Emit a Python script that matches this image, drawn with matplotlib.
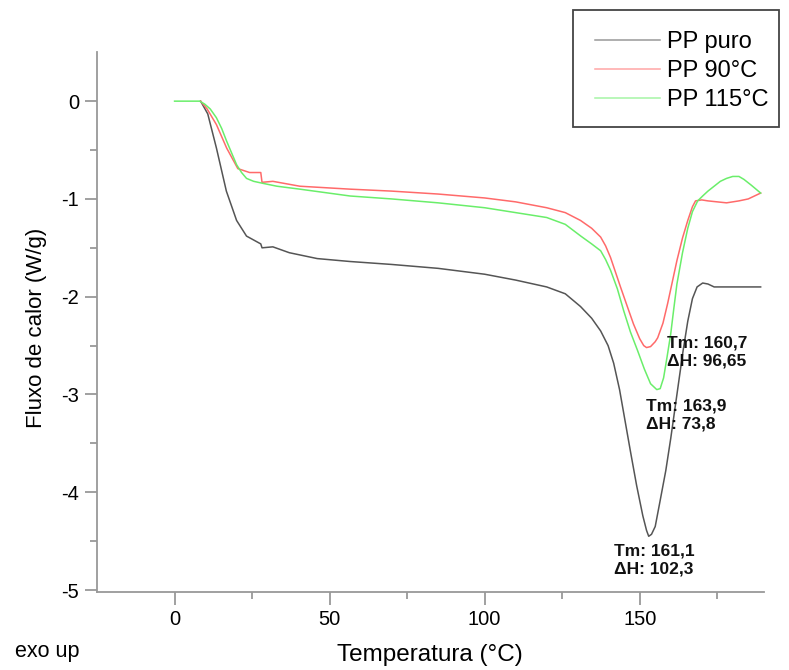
import matplotlib.pyplot as plt
from matplotlib.patches import Rectangle

# PP puro (black)
puro_x = [8.4, 10.7, 13.5, 16.7, 20.0, 23.2, 27.8, 28.2, 31.7, 37.0, 46.0, 56.6, 70.0, 85.0,
          100.0, 110.0, 120.0, 126.0, 130.9, 134.5, 137.4, 139.8, 141.6, 143.5, 145.0, 147.0,
          149.0, 151.0, 152.2, 152.9, 153.8, 155.0, 156.5, 158.4, 160.0, 162.0, 164.0, 165.5,
          167.0, 168.5, 170.3, 172.0, 174.0, 180.0, 189.0]
puro_y = [0.0, -0.13, -0.48, -0.92, -1.22, -1.38, -1.46, -1.50, -1.49, -1.55, -1.61, -1.64, -1.67, -1.71,
          -1.77, -1.83, -1.90, -1.97, -2.10, -2.22, -2.35, -2.50, -2.68, -2.95, -3.22, -3.58,
          -3.93, -4.24, -4.39, -4.45, -4.43, -4.35, -4.10, -3.78, -3.45, -3.00, -2.55, -2.25,
          -2.02, -1.90, -1.86, -1.87, -1.90, -1.90, -1.90]

# PP 90°C (red)
p90_x = [8.4, 10.5, 13.5, 16.8, 20.4, 24.2, 27.8, 28.2, 31.7, 40.4, 56.6, 70.0, 85.0, 100.0,
         110.0, 120.0, 126.0, 130.9, 134.5, 137.4, 139.0, 140.6, 142.2, 143.8, 146.0, 148.0, 150.0,
         151.3, 152.2, 153.5, 155.0, 155.8, 157.5, 159.0, 160.5, 162.0, 163.8, 165.5, 167.0,
         168.0, 170.0, 172.0, 175.0, 178.0, 182.0, 185.0, 189.0]
p90_y = [0.0, -0.08, -0.24, -0.48, -0.69, -0.73, -0.73, -0.83, -0.82, -0.87, -0.90, -0.92, -0.95, -0.99,
         -1.03, -1.09, -1.14, -1.22, -1.30, -1.39, -1.48, -1.60, -1.75, -1.90, -2.10, -2.28, -2.43,
         -2.50, -2.52, -2.51, -2.46, -2.42, -2.27, -2.07, -1.85, -1.63, -1.40, -1.22, -1.08,
         -1.02, -1.01, -1.02, -1.03, -1.04, -1.02, -1.00, -0.94]

# PP 115°C (green)
p115_x = [0.0, 8.1, 9.7, 11.5, 13.5, 15.2, 16.8, 18.4, 20.0, 21.6, 23.2, 25.5, 28.4, 33.0, 40.4,
          56.6, 70.0, 85.0, 100.0, 110.0, 120.0, 126.0, 131.0, 134.5, 137.4, 139.0, 140.6, 142.8,
          144.8, 147.0, 149.3, 151.5, 153.5, 155.5, 156.6, 157.7, 158.8, 160.0, 161.0, 162.0,
          163.8, 165.5, 167.0, 168.7, 170.3, 172.0, 174.0, 176.0, 178.0, 180.0, 182.0, 183.6, 186.0, 189.0]
p115_y = [0.0, 0.0, -0.03, -0.08, -0.17, -0.28, -0.41, -0.53, -0.65, -0.73, -0.79, -0.82, -0.84, -0.87, -0.90,
          -0.97, -1.00, -1.04, -1.09, -1.14, -1.19, -1.26, -1.38, -1.46, -1.53, -1.62, -1.73, -1.92,
          -2.14, -2.36, -2.55, -2.74, -2.89, -2.95, -2.94, -2.83, -2.62, -2.38, -2.12, -1.87,
          -1.55, -1.30, -1.13, -1.02, -0.97, -0.92, -0.87, -0.82, -0.79, -0.77, -0.77, -0.80, -0.86, -0.94]

labels = ['PP puro', 'PP 90°C', 'PP 115°C']
colors = ['#555555', '#ff6a6a', '#6aee6a']

ann_x = [158.7, 151.9, 141.6]
ann_y = [-2.40, -3.04, -4.52]
ann_text = ['Tm: 160,7\n\u0394H: 96,65', 'Tm: 163,9\n\u0394H: 73,8', 'Tm: 161,1\n\u0394H: 102,3']

plt.rcParams['font.family'] = ['Liberation Sans', 'DejaVu Sans']
plt.rcParams['axes.unicode_minus'] = False

fig = plt.figure(figsize=(7.89, 6.70), dpi=100)
ax = fig.add_axes([0.123, 0.1164, 0.845, 0.8056])

ax.plot(puro_x, puro_y, color=colors[0], lw=1.1, label=labels[0])
ax.plot(p90_x, p90_y, color=colors[1], lw=1.1, label=labels[1])
ax.plot(p115_x, p115_y, color=colors[2], lw=1.1, label=labels[2])

for x, y, t in zip(ann_x, ann_y, ann_text):
    ax.text(x, y, t, fontsize=12.5, fontweight='bold', va='top', ha='left', linespacing=1.25, color='#111111')

ax.set_xlim(-25, 190)
ax.set_ylim(-5.02, 0.5)
ax.set_xticks([0, 50, 100, 150])
ax.set_xticks([25, 75, 125, 175], minor=True)
ax.set_yticks([0, -1, -2, -3, -4, -5])
ax.set_yticks([-0.5, -1.5, -2.5, -3.5, -4.5], minor=True)
for s in ['top', 'right']:
    ax.spines[s].set_visible(False)
for s in ['left', 'bottom']:
    ax.spines[s].set_color('#999999')
    ax.spines[s].set_linewidth(1.3)
ax.tick_params(which='major', length=9, width=1.3, color='#999999', labelsize=14.5, pad=4)
ax.tick_params(which='minor', length=5, width=1.3, color='#999999')

fig.text(0.046, 0.51, 'Fluxo de calor (W/g)', rotation=90, fontsize=16, ha='center', va='center')
fig.text(0.545, 0.022, 'Temperatura (°C)', fontsize=17.5, ha='center', va='center')
fig.text(0.019, 0.027, 'exo up', fontsize=15.5, ha='left', va='center')

# legend frame drawn separately so its padding matches the original
fig.patches.append(Rectangle((573 / 789, 1 - 127 / 670), 206 / 789, 117 / 670, transform=fig.transFigure,
                             fill=False, edgecolor='#444444', linewidth=1.3))
leg = fig.legend(loc='upper left', bbox_to_anchor=(0.754, 0.954), fontsize=17, frameon=False,
                 borderpad=0, labelspacing=0.3, handlelength=2.75, handletextpad=0.3,
                 borderaxespad=0)
for h in leg.get_lines():
    h.set_alpha(0.6)

fig.savefig('out.png', dpi=100)
